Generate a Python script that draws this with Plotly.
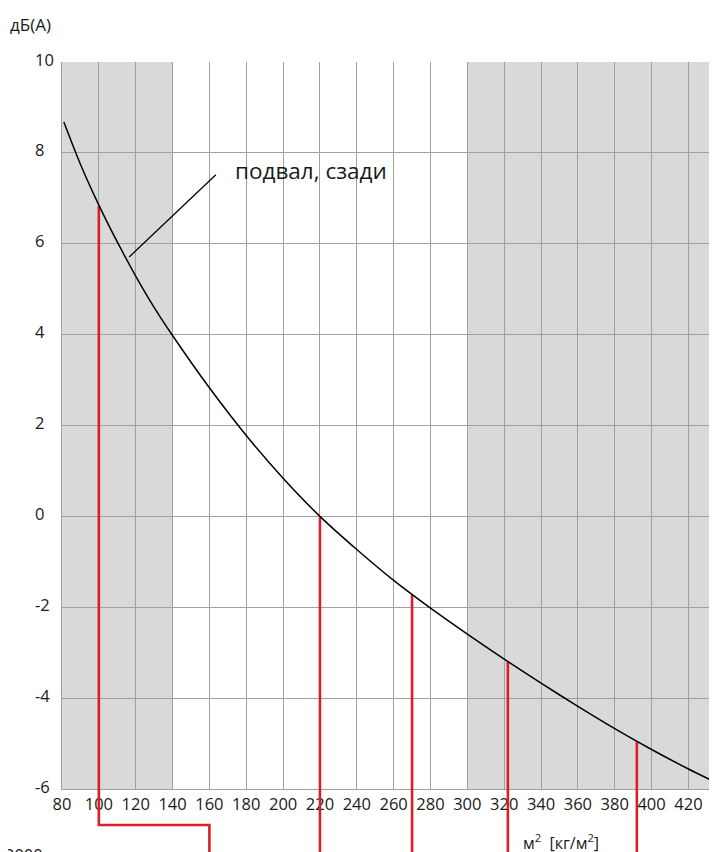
import plotly.graph_objects as go

# ---- data ----
mass = [81, 90, 100, 110, 120, 130, 140, 160, 180, 200, 220, 240, 260, 280,
        300, 320, 340, 360, 380, 400, 420, 435]
db = [8.68, 7.75, 6.85, 6.04, 5.29, 4.60, 3.98, 2.83, 1.78, 0.84, 0.0, -0.73, -1.41,
      -2.02, -2.59, -3.14, -3.67, -4.18, -4.67, -5.13, -5.56, -5.86]
curve_name = "подвал, сзади"

red_x = [100, 220, 270, 322, 392]
red_top = [6.83, -0.02, -1.73, -3.20, -4.97]
step_to_x = 160  # first red line steps over to this mass below the axis

gray_bands = [(80, 140), (300, 440)]

x_ticks = [80, 100, 120, 140, 160, 180, 200, 220, 240, 260, 280, 300, 320, 340,
           360, 380, 400, 420]
y_ticks = [-6, -4, -2, 0, 2, 4, 6, 8, 10]
y_tick_text = ["-6", "-4", "-2", "0", "2", "4", "6", "8", "10"]

y_title = "дБ(А)"
x_title = "м<sup>2</sup>  [кг/м<sup>2</sup>]"

# ---- styles ----
FONT = "'Open Sans', Lato, sans-serif"
GRID = "#a0a0a0"
BAND = "#d9d9d9"
RED = "#d7202a"
TXT = "#1a1a1a"
TICK = 16.5

fig = go.Figure()
fig.add_trace(go.Scatter(x=mass, y=db, mode="lines",
                         line=dict(color="black", width=1.5, shape="spline", smoothing=0.8),
                         name=curve_name, showlegend=False, hoverinfo="skip"))

shapes = []
for x0, x1 in gray_bands:
    shapes.append(dict(type="rect", xref="x", yref="y", x0=x0, x1=x1, y0=-6, y1=10,
                       fillcolor=BAND, line=dict(width=0), layer="below"))

for i, (rx, rt) in enumerate(zip(red_x, red_top)):
    shapes.append(dict(type="line", xref="x", yref="y", x0=rx, x1=rx, y0=rt, y1=-6,
                       line=dict(color=RED, width=2.6), layer="between"))
    if i == 0:
        path = f"M {rx},0 L {rx},-0.0495 L {step_to_x},-0.0495 L {step_to_x},-0.2"
    else:
        path = f"M {rx},0 L {rx},-0.2"
    shapes.append(dict(type="path", xref="x", yref="paper", path=path,
                       line=dict(color=RED, width=2.6), layer="above"))

# leader line for the curve label
shapes.append(dict(type="line", xref="x", yref="y", x0=116.5, y0=5.71, x1=163.5, y1=7.52,
                   line=dict(color="black", width=1.3), layer="above"))

annotations = []
annotations.append(dict(text=curve_name, xref="x", yref="y", x=173.0, y=7.62,
                        xanchor="left", yanchor="middle", showarrow=False,
                        font=dict(family=FONT, size=22.5, color=TXT)))
annotations.append(dict(text=y_title, xref="paper", yref="paper", x=-0.0824, y=1.051,
                        xanchor="left", yanchor="middle", showarrow=False,
                        font=dict(family=FONT, size=17, color=TXT)))
annotations.append(dict(text=x_title, xref="paper", yref="paper", x=0.7615, y=-0.0735,
                        xanchor="center", yanchor="middle", showarrow=False,
                        font=dict(family=FONT, size=16, color=TXT)))
annotations.append(dict(text="2000", xref="paper", yref="paper", x=-0.0896, y=-0.071,
                        xanchor="left", yanchor="top", showarrow=False,
                        font=dict(family=FONT, size=TICK, color=TXT)))
for v, t in zip(y_ticks, y_tick_text):
    annotations.append(dict(text=t, xref="paper", yref="y", x=-0.0445, y=v, yshift=3,
                            xanchor="left", yanchor="middle", showarrow=False,
                            font=dict(family=FONT, size=TICK, color=TXT)))

fig.update_layout(
    width=709, height=844,
    margin=dict(l=54, r=0, t=54, b=63),
    paper_bgcolor="white", plot_bgcolor="white",
    font=dict(family=FONT, size=TICK, color=TXT),
    shapes=shapes, annotations=annotations,
    xaxis=dict(range=[80, 435.5], tickvals=x_ticks, showgrid=True, gridcolor=GRID, gridwidth=1.2,
               showline=True, linecolor=GRID, linewidth=1.2, zeroline=False, ticks="",
               tickfont=dict(family=FONT, size=TICK, color=TXT), fixedrange=True),
    yaxis=dict(range=[-6, 10], tickvals=y_ticks, showgrid=True, gridcolor=GRID, gridwidth=1.2,
               showline=True, linecolor=GRID, linewidth=1.2, zeroline=False, ticks="",
               showticklabels=False, fixedrange=True),
)

fig.write_html("out.html")
